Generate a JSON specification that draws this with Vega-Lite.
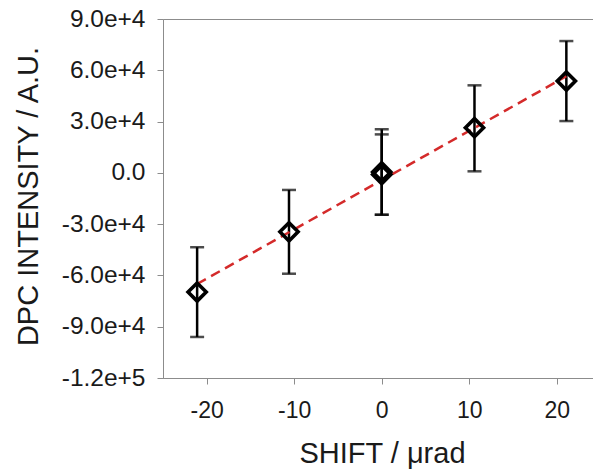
{
  "$schema": "https://vega.github.io/schema/vega-lite/v6.json",
  "width": 431,
  "height": 359,
  "autosize": {"type": "none"},
  "padding": {"left": 163, "top": 19, "right": 0, "bottom": 96},
  "background": "white",
  "config": {
    "view": {"stroke": "#8c8c8c", "strokeWidth": 1},
    "font": "Liberation Sans",
    "axis": {
      "grid": false,
      "domainColor": "#8c8c8c",
      "tickColor": "#8c8c8c",
      "tickSize": 6,
      "labelColor": "#1a1a1a",
      "titleColor": "#1a1a1a",
      "titleFontWeight": "normal",
      "labelFont": "Liberation Sans",
      "titleFont": "Liberation Sans"
    }
  },
  "datasets": {
    "pts": [
      {"shift": -21.1, "dpc": -69700, "hi": -43500, "lo": -96000},
      {"shift": -10.6, "dpc": -34500, "hi": -10000, "lo": -59000},
      {"shift": 0, "dpc": 500, "hi": 25500, "lo": -24500},
      {"shift": 0, "dpc": -1000, "hi": 22500, "lo": -24500},
      {"shift": 10.6, "dpc": 26400, "hi": 51200, "lo": 900},
      {"shift": 21.1, "dpc": 53700, "hi": 77100, "lo": 30300}
    ],
    "fit": [
      {"shift": -21.1, "dpc": -65000},
      {"shift": 21.1, "dpc": 56500}
    ]
  },
  "layer": [
    {
      "data": {"name": "pts"},
      "mark": {"type": "rule", "color": "black", "strokeWidth": 2.5},
      "encoding": {
        "x": {
          "field": "shift", "type": "quantitative",
          "scale": {"domain": [-25, 24.26], "nice": false, "zero": false},
          "axis": {
            "values": [-20, -10, 0, 10, 20],
            "labelFontSize": 23,
            "labelPadding": 15,
            "labelExpr": "replace(format(datum.value, 'd'), '\u2212', '-')",
            "title": "SHIFT / μrad",
            "titleFontSize": 29,
            "titleX": 219,
            "titleY": 84,
            "titleAlign": "center",
            "titleBaseline": "alphabetic"
          }
        },
        "y": {
          "field": "lo", "type": "quantitative",
          "scale": {"domain": [-120000, 90000], "nice": false, "zero": false},
          "axis": {
            "values": [-120000, -90000, -60000, -30000, 0, 30000, 60000, 90000],
            "labelFontSize": 24.5,
            "labelPadding": 12,
            "labelExpr": "datum.value == 0 ? '0.0' : replace(format(datum.value, '.1e'), '\u2212', '-')",
            "title": "DPC INTENSITY / A.U.",
            "titleFontSize": 29,
            "titleAngle": -90,
            "titleX": -126,
            "titleY": 177,
            "titleAlign": "center",
            "titleBaseline": "alphabetic"
          }
        },
        "y2": {"field": "hi"}
      }
    },
    {
      "data": {"name": "pts"},
      "mark": {"type": "tick", "orient": "horizontal", "color": "black", "size": 14, "thickness": 2.5},
      "encoding": {
        "x": {"field": "shift", "type": "quantitative"},
        "y": {"field": "hi", "type": "quantitative"}
      }
    },
    {
      "data": {"name": "pts"},
      "mark": {"type": "tick", "orient": "horizontal", "color": "black", "size": 14, "thickness": 2.5},
      "encoding": {
        "x": {"field": "shift", "type": "quantitative"},
        "y": {"field": "lo", "type": "quantitative"}
      }
    },
    {
      "data": {"name": "fit"},
      "mark": {"type": "line", "color": "#d42a2a", "strokeWidth": 2.5, "strokeDash": [10, 6]},
      "encoding": {
        "x": {"field": "shift", "type": "quantitative"},
        "y": {"field": "dpc", "type": "quantitative"}
      }
    },
    {
      "data": {"name": "pts"},
      "mark": {"type": "point", "shape": "diamond", "filled": false, "stroke": "black", "strokeWidth": 3.6, "size": 330, "opacity": 1},
      "encoding": {
        "x": {"field": "shift", "type": "quantitative"},
        "y": {"field": "dpc", "type": "quantitative"}
      }
    }
  ]
}
